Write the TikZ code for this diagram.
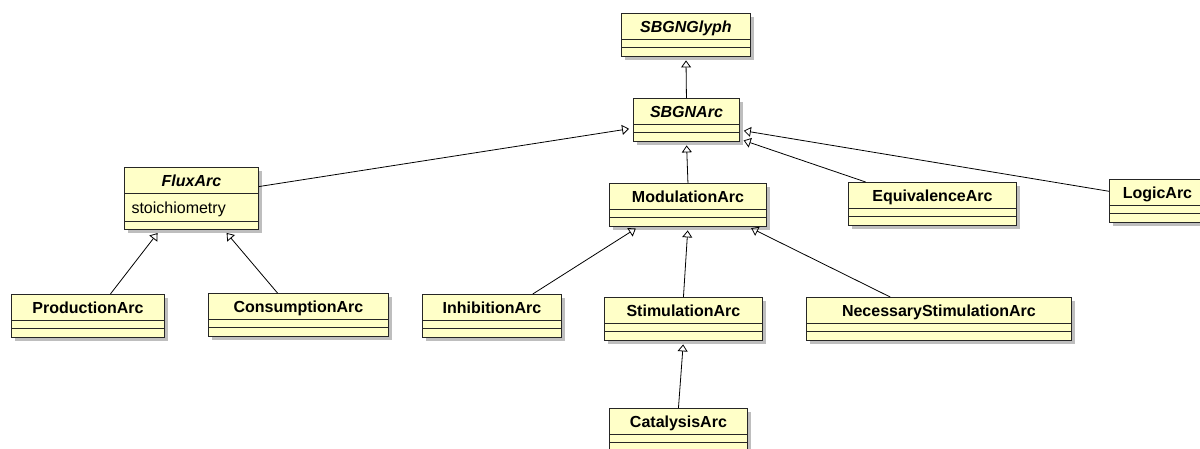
\documentclass[tikz,border=0pt]{standalone}
\usepackage{fontspec}
\setmainfont{Liberation Sans}
\usetikzlibrary{arrows.meta,shadows}
\definecolor{umlyellow}{RGB}{255,255,200}
\definecolor{umlshadow}{RGB}{190,190,190}
\tikzset{
	classbox/.style={draw=black!85, fill=umlyellow, line width=0.9pt, inner sep=0pt,
		drop shadow={shadow xshift=4pt, shadow yshift=-4pt, fill=umlshadow, opacity=1}},
	classname/.style={font=\fontsize{16}{19}\selectfont\bfseries, anchor=base},
	sepline/.style={draw=black!85, line width=0.9pt},
	inherit/.style={-{Triangle[open, length=7pt, width=10pt]}, line width=0.8pt, shorten >=4pt},
}
% class box: name, left, top, width, text, attribute height
\newcommand{\umlclass}[6]{
	\node[classbox, anchor=north west, minimum width=#4pt, minimum height={34pt+#6pt}] (#1) at (#2,#3) {};
	\node[classname] (#1-name) at ([yshift=-19pt]#1.north) {#5};
	\draw[sepline] ([yshift=-26pt]#1.north west) -- ([yshift=-26pt]#1.north east);
	\draw[sepline] ([yshift={-26pt-#6pt}]#1.north west) -- ([yshift={-26pt-#6pt}]#1.north east);
}
\begin{document}
\begin{tikzpicture}[x=1pt, y=-1pt]
		\path[use as bounding box, fill=white] (0,0) rectangle (1200,448);
		
		% Top of the hierarchy
		\umlclass{glyph}{621}{13}{129}{\itshape SBGNGlyph}{8.5}
		\umlclass{arc}{633}{98}{106}{\itshape SBGNArc}{8.5}
		
		% Second level
		\umlclass{flux}{124}{167}{134}{\itshape FluxArc}{28}
		\node[anchor=base west, font=\fontsize{16}{19}\selectfont] (flux-attr) at ([xshift=4pt, yshift=-46pt]flux.north west) {stoichiometry};
		\umlclass{modulation}{609}{183}{157}{ModulationArc}{8.5}
		\umlclass{equivalence}{848}{182}{168}{EquivalenceArc}{8.5}
		\umlclass{logic}{1109}{179}{96}{LogicArc}{8.5}
		
		% Third level
		\umlclass{production}{11}{294}{153}{ProductionArc}{8.5}
		\umlclass{consumption}{208}{293}{180}{ConsumptionArc}{8.5}
		\umlclass{inhibition}{422}{294}{139}{InhibitionArc}{8.5}
		\umlclass{stimulation}{604}{297}{158}{StimulationArc}{8.5}
		\umlclass{necessary}{806}{297}{265}{NecessaryStimulationArc}{8.5}
		\umlclass{catalysis}{609}{408}{138}{CatalysisArc}{8.5}
		
		% Generalizations
		\draw[inherit] (arc.north) -- (glyph.south);
		\draw[inherit] (flux.10) -- (arc.189);
		\draw[inherit] (modulation.north) -- (arc.south);
		\draw[inherit] (equivalence.162) -- (arc.-20);
		\draw[inherit] (logic.169) -- (arc.-11);
		\draw[inherit] (production.44) -- (flux.225);
		\draw[inherit] (consumption.134) -- (flux.-44);
		\draw[inherit] (inhibition.28) -- (modulation.204);
		\draw[inherit] (stimulation.north) -- (modulation.south);
		\draw[inherit] (necessary.156) -- (modulation.-20);
		\draw[inherit] (catalysis.north) -- (stimulation.south);
	\end{tikzpicture}
\end{document}
